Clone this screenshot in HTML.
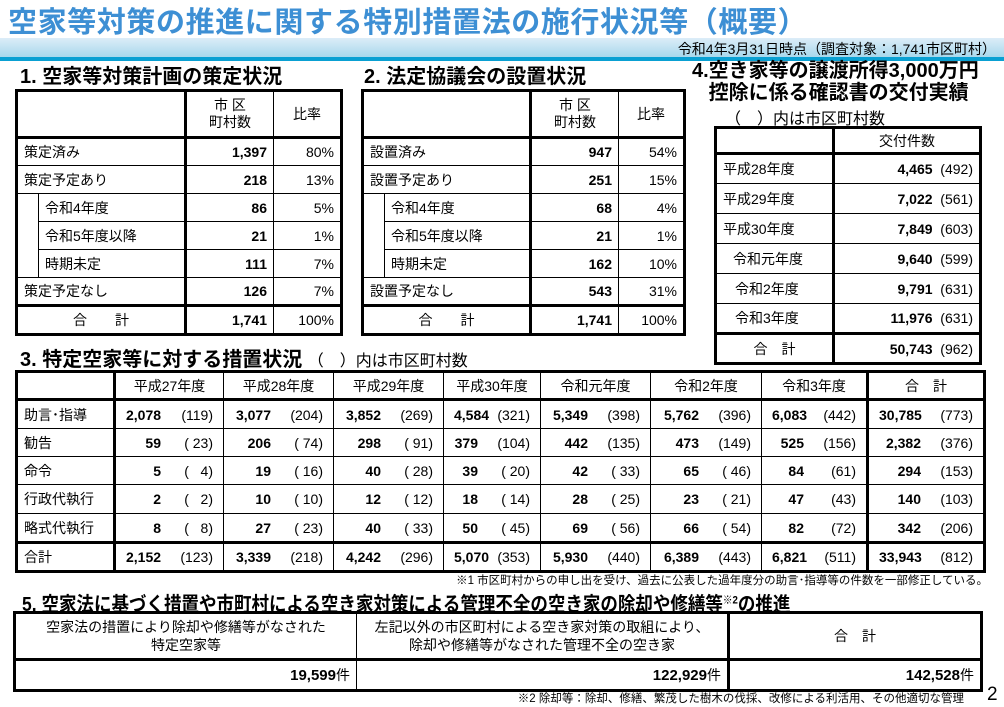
<!DOCTYPE html>
<html><head><meta charset="utf-8"><style>
*{margin:0;padding:0;box-sizing:border-box}
body{width:1004px;height:707px;background:#fff;position:relative;overflow:hidden;font-family:"Liberation Sans","Noto Sans CJK JP",sans-serif;color:#000}
.a{position:absolute;white-space:nowrap}
table{position:absolute;border-collapse:collapse;table-layout:fixed;border:3px solid #000;font-size:14px}
td{border:1px solid #000;padding:0 6px;white-space:nowrap;overflow:hidden}
.r{text-align:right}.c{text-align:center}.b{font-weight:bold}
.hb td{border-bottom:3px solid #000}
.tt td{border-top:3px solid #000}
.nb{border-top:none!important;border-bottom:none!important}
.v{display:flex;justify-content:flex-end;padding:0 4px}
.v .n{font-weight:bold;text-align:right}
.v .p{white-space:pre;text-align:right;width:52px}
.h{font-weight:bold;font-size:20px}
</style></head><body>
<div class="a" style="left:0;top:38px;width:1004px;height:19px;background:linear-gradient(#dcedf8,#a8d8ec)"></div>
<div class="a" style="left:0;top:57px;width:1004px;height:4px;background:#0aa0d2"></div>
<div class="a" style="left:8px;top:-1px;font-size:29px;font-weight:bold;color:#3d8fd4;letter-spacing:0.6px">空家等対策の推進に関する特別措置法の施行状況等（概要）</div>
<div class="a" style="right:8px;top:39px;font-size:14px">令和4年3月31日時点（調査対象：1,741市区町村）</div>

<div class="a h" style="left:20px;top:60px">1. 空家等対策計画の策定状況</div>
<table style="left:15px;top:89px;width:325px">
<colgroup><col style="width:22px"><col style="width:147px"><col style="width:88px"><col style="width:68px"></colgroup>
<tr class="hb" style="height:47px"><td colspan="2" style="border-right:3px solid #000"></td><td class="c" style="line-height:17px">市 区<br>町村数</td><td class="c">比率</td></tr>
<tr style="height:28px"><td colspan="2" style="border-right:3px solid #000">策定済み</td><td class="r b">1,397</td><td class="r">80%</td></tr>
<tr style="height:28px"><td colspan="2" style="border-right:3px solid #000">策定予定あり</td><td class="r b">218</td><td class="r">13%</td></tr>
<tr style="height:28px"><td class="nb"></td><td style="border-right:3px solid #000">令和4年度</td><td class="r b">86</td><td class="r">5%</td></tr>
<tr style="height:28px"><td class="nb"></td><td style="border-right:3px solid #000">令和5年度以降</td><td class="r b">21</td><td class="r">1%</td></tr>
<tr style="height:28px"><td class="nb"></td><td style="border-right:3px solid #000">時期未定</td><td class="r b">111</td><td class="r">7%</td></tr>
<tr style="height:28px"><td colspan="2" style="border-right:3px solid #000">策定予定なし</td><td class="r b">126</td><td class="r">7%</td></tr>
<tr class="tt" style="height:29px"><td colspan="2" class="c" style="border-right:3px solid #000">合　　計</td><td class="r b">1,741</td><td class="r">100%</td></tr>
</table>

<div class="a h" style="left:364px;top:60px">2. 法定協議会の設置状況</div>
<table style="left:361px;top:89px;width:322px">
<colgroup><col style="width:22px"><col style="width:146px"><col style="width:88px"><col style="width:66px"></colgroup>
<tr class="hb" style="height:47px"><td colspan="2" style="border-right:3px solid #000"></td><td class="c" style="line-height:17px">市 区<br>町村数</td><td class="c">比率</td></tr>
<tr style="height:28px"><td colspan="2" style="border-right:3px solid #000">設置済み</td><td class="r b">947</td><td class="r">54%</td></tr>
<tr style="height:28px"><td colspan="2" style="border-right:3px solid #000">設置予定あり</td><td class="r b">251</td><td class="r">15%</td></tr>
<tr style="height:28px"><td class="nb"></td><td style="border-right:3px solid #000">令和4年度</td><td class="r b">68</td><td class="r">4%</td></tr>
<tr style="height:28px"><td class="nb"></td><td style="border-right:3px solid #000">令和5年度以降</td><td class="r b">21</td><td class="r">1%</td></tr>
<tr style="height:28px"><td class="nb"></td><td style="border-right:3px solid #000">時期未定</td><td class="r b">162</td><td class="r">10%</td></tr>
<tr style="height:28px"><td colspan="2" style="border-right:3px solid #000">設置予定なし</td><td class="r b">543</td><td class="r">31%</td></tr>
<tr class="tt" style="height:29px"><td colspan="2" class="c" style="border-right:3px solid #000">合　　計</td><td class="r b">1,741</td><td class="r">100%</td></tr>
</table>

<div class="a h" style="left:692px;top:60px;line-height:22px">4.空き家等の譲渡所得3,000万円<br>&nbsp;&nbsp;&nbsp;控除に係る確認書の交付実績</div>
<div class="a" style="left:725px;top:105px;font-size:16px">（　）内は市区町村数</div>
<table style="left:714px;top:126px;width:265px">
<colgroup><col style="width:118px"><col style="width:147px"></colgroup>
<tr class="hb" style="height:26px"><td style="border-right:3px solid #000"></td><td class="c">交付件数</td></tr>
<tr style="height:30px"><td style="border-right:3px solid #000">平成28年度</td><td class="r"><b>4,465</b>&nbsp;&nbsp;(492)</td></tr>
<tr style="height:30px"><td style="border-right:3px solid #000">平成29年度</td><td class="r"><b>7,022</b>&nbsp;&nbsp;(561)</td></tr>
<tr style="height:30px"><td style="border-right:3px solid #000">平成30年度</td><td class="r"><b>7,849</b>&nbsp;&nbsp;(603)</td></tr>
<tr style="height:30px"><td style="border-right:3px solid #000;padding-left:16px">令和元年度</td><td class="r"><b>9,640</b>&nbsp;&nbsp;(599)</td></tr>
<tr style="height:30px"><td style="border-right:3px solid #000;padding-left:18px">令和2年度</td><td class="r"><b>9,791</b>&nbsp;&nbsp;(631)</td></tr>
<tr style="height:30px"><td style="border-right:3px solid #000;padding-left:18px">令和3年度</td><td class="r"><b>11,976</b>&nbsp;&nbsp;(631)</td></tr>
<tr class="tt" style="height:30px"><td class="c" style="border-right:3px solid #000">合　計</td><td class="r"><b>50,743</b>&nbsp;&nbsp;(962)</td></tr>
</table>

<div class="a h" style="left:20px;top:343px">3. 特定空家等に対する措置状況 <span style="font-weight:normal;font-size:16px">（　）内は市区町村数</span></div>
<table style="left:15px;top:370px;width:968px;font-size:14px">
<colgroup><col style="width:98px"><col style="width:109px"><col style="width:110px"><col style="width:110px"><col style="width:97px"><col style="width:110px"><col style="width:111px"><col style="width:106px"><col style="width:117px"></colgroup>
<tr class="hb" style="height:28px"><td style="border-right:3px solid #000"></td><td class="c">平成27年度</td><td class="c">平成28年度</td><td class="c">平成29年度</td><td class="c">平成30年度</td><td class="c">令和元年度</td><td class="c">令和2年度</td><td class="c" style="border-right:3px solid #000">令和3年度</td><td class="c">合　計</td></tr>
<tr style="height:29px"><td style="border-right:3px solid #000">助言･指導</td><td><div class="v"><span class="n">2,078</span><span class="p">(119)</span></div></td><td><div class="v"><span class="n">3,077</span><span class="p">(204)</span></div></td><td><div class="v"><span class="n">3,852</span><span class="p">(269)</span></div></td><td><div class="v"><span class="n">4,584</span><span class="p">(321)</span></div></td><td><div class="v"><span class="n">5,349</span><span class="p">(398)</span></div></td><td><div class="v"><span class="n">5,762</span><span class="p">(396)</span></div></td><td style="border-right:3px solid #000"><div class="v"><span class="n">6,083</span><span class="p">(442)</span></div></td><td><div class="v"><span class="n">30,785</span><span class="p">(773)</span></div></td></tr>
<tr style="height:28px"><td style="border-right:3px solid #000">勧告</td><td><div class="v"><span class="n">59</span><span class="p">( 23)</span></div></td><td><div class="v"><span class="n">206</span><span class="p">( 74)</span></div></td><td><div class="v"><span class="n">298</span><span class="p">( 91)</span></div></td><td><div class="v"><span class="n">379</span><span class="p">(104)</span></div></td><td><div class="v"><span class="n">442</span><span class="p">(135)</span></div></td><td><div class="v"><span class="n">473</span><span class="p">(149)</span></div></td><td style="border-right:3px solid #000"><div class="v"><span class="n">525</span><span class="p">(156)</span></div></td><td><div class="v"><span class="n">2,382</span><span class="p">(376)</span></div></td></tr>
<tr style="height:28px"><td style="border-right:3px solid #000">命令</td><td><div class="v"><span class="n">5</span><span class="p">(   4)</span></div></td><td><div class="v"><span class="n">19</span><span class="p">( 16)</span></div></td><td><div class="v"><span class="n">40</span><span class="p">( 28)</span></div></td><td><div class="v"><span class="n">39</span><span class="p">( 20)</span></div></td><td><div class="v"><span class="n">42</span><span class="p">( 33)</span></div></td><td><div class="v"><span class="n">65</span><span class="p">( 46)</span></div></td><td style="border-right:3px solid #000"><div class="v"><span class="n">84</span><span class="p">(61)</span></div></td><td><div class="v"><span class="n">294</span><span class="p">(153)</span></div></td></tr>
<tr style="height:29px"><td style="border-right:3px solid #000">行政代執行</td><td><div class="v"><span class="n">2</span><span class="p">(   2)</span></div></td><td><div class="v"><span class="n">10</span><span class="p">( 10)</span></div></td><td><div class="v"><span class="n">12</span><span class="p">( 12)</span></div></td><td><div class="v"><span class="n">18</span><span class="p">( 14)</span></div></td><td><div class="v"><span class="n">28</span><span class="p">( 25)</span></div></td><td><div class="v"><span class="n">23</span><span class="p">( 21)</span></div></td><td style="border-right:3px solid #000"><div class="v"><span class="n">47</span><span class="p">(43)</span></div></td><td><div class="v"><span class="n">140</span><span class="p">(103)</span></div></td></tr>
<tr style="height:29px"><td style="border-right:3px solid #000">略式代執行</td><td><div class="v"><span class="n">8</span><span class="p">(   8)</span></div></td><td><div class="v"><span class="n">27</span><span class="p">( 23)</span></div></td><td><div class="v"><span class="n">40</span><span class="p">( 33)</span></div></td><td><div class="v"><span class="n">50</span><span class="p">( 45)</span></div></td><td><div class="v"><span class="n">69</span><span class="p">( 56)</span></div></td><td><div class="v"><span class="n">66</span><span class="p">( 54)</span></div></td><td style="border-right:3px solid #000"><div class="v"><span class="n">82</span><span class="p">(72)</span></div></td><td><div class="v"><span class="n">342</span><span class="p">(206)</span></div></td></tr>
<tr class="tt" style="height:29px"><td style="border-right:3px solid #000">合計</td><td><div class="v"><span class="n">2,152</span><span class="p">(123)</span></div></td><td><div class="v"><span class="n">3,339</span><span class="p">(218)</span></div></td><td><div class="v"><span class="n">4,242</span><span class="p">(296)</span></div></td><td><div class="v"><span class="n">5,070</span><span class="p">(353)</span></div></td><td><div class="v"><span class="n">5,930</span><span class="p">(440)</span></div></td><td><div class="v"><span class="n">6,389</span><span class="p">(443)</span></div></td><td style="border-right:3px solid #000"><div class="v"><span class="n">6,821</span><span class="p">(511)</span></div></td><td><div class="v"><span class="n">33,943</span><span class="p">(812)</span></div></td></tr>
</table>
<div class="a" style="right:16px;top:572px;font-size:11.5px">※1 市区町村からの申し出を受け、過去に公表した過年度分の助言･指導等の件数を一部修正している。</div>

<div class="a h" style="left:22px;top:588px;transform:scaleX(0.875);transform-origin:left top">5. 空家法に基づく措置や市町村による空き家対策による管理不全の空き家の除却や修繕等<sup style="font-size:11px">※2</sup>の推進</div>
<table style="left:13px;top:611px;width:967px;font-size:14px">
<colgroup><col style="width:342px"><col style="width:372px"><col style="width:253px"></colgroup>
<tr class="hb" style="height:47px"><td class="c" style="line-height:18px">空家法の措置により除却や修繕等がなされた<br>特定空家等</td><td class="c" style="line-height:18px;border-right:3px solid #000">左記以外の市区町村による空き家対策の取組により、<br>除却や修繕等がなされた管理不全の空き家</td><td class="c">合　計</td></tr>
<tr style="height:31px"><td class="r"><b style="font-size:15px">19,599</b>件</td><td class="r" style="border-right:3px solid #000"><b style="font-size:15px">122,929</b>件</td><td class="r"><b style="font-size:15px">142,528</b>件</td></tr>
</table>
<div class="a" style="right:40px;top:690px;font-size:11.5px">※2 除却等：除却、修繕、繁茂した樹木の伐採、改修による利活用、その他適切な管理</div>
<div class="a" style="left:987px;top:684px;font-size:19px">2</div>
</body></html>
